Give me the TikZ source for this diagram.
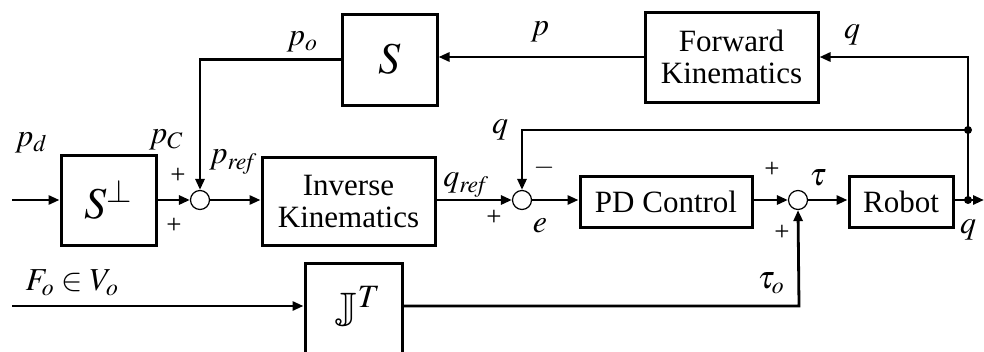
\documentclass[tikz,border=0pt]{standalone}
\usepackage{amssymb}
\usepackage{mathptmx}
\usepackage{fontspec}
\setmainfont{Liberation Serif}
\usetikzlibrary{arrows.meta}
\begin{document}
\begin{tikzpicture}[x=1pt,y=-1pt,
  blk/.style={draw,line width=3pt,minimum width=#1,inner sep=0pt,align=center,font=\fontsize{31}{32}\selectfont},
  sumj/.style={draw,circle,line width=1.2pt,minimum size=19pt,inner sep=0pt,fill=white},
  sig/.style={line width=2.8pt,-{Triangle[length=11pt,width=9pt]}},
  ln/.style={line width=2.8pt},
  lab/.style={font=\fontsize{32}{34}\selectfont,inner sep=0pt},
  sgn/.style={font=\fontsize{27}{28}\selectfont,inner sep=0pt},
  dotj/.style={circle,fill,minimum size=8pt,inner sep=0pt}]
\useasboundingbox (0,0) rectangle (984,351);
% blocks
\node[blk=95pt,minimum height=90pt] (sp) at (108.5,200) {\fontsize{44}{44}\selectfont$S^{\perp}$};
\node[sumj] (s1) at (200,200) {};
\node[blk=173pt,minimum height=88pt] (ik) at (348.5,201) {Inverse\\Kinematics};
\node[sumj] (s2) at (522,200) {};
\node[blk=172pt,minimum height=51pt] (pd) at (666,201.5) {PD Control};
\node[sumj] (s3) at (798,200) {};
\node[blk=104pt,minimum height=51pt] (rb) at (901,201.5) {Robot};
\node[blk=173pt,minimum height=90pt] (fk) at (731.5,57) {Forward\\Kinematics};
\node[blk=95pt,minimum height=91pt] (s) at (389.5,59.5) {\fontsize{44}{44}\selectfont$S$};
\node[blk=97pt,minimum height=92pt] (jt) at (353.5,309) {};
\node[inner sep=0pt,font=\fontsize{44}{44}\selectfont] (jtl) at (358,309) {$\mathbb{J}^{T}$};
% coordinates
\coordinate (in1) at (12,200);
\coordinate (in2) at (12,306);
\coordinate (out) at (984,200);
\node[dotj] (d1) at (968,200) {};
\node[dotj] (d2) at (968,130) {};
\coordinate (c1) at (968,57);
\coordinate (c2) at (200,59.5);
\coordinate (c3) at (522,130);
\coordinate (c4) at (799,306);
% connectors
\draw[sig] (in1) -- (sp.west);
\draw[sig] (in2) -- (jt.west |- in2);
\draw[sig] (sp.east) -- (s1.west);
\draw[sig] (s1.east) -- (ik.west |- s1);
\draw[sig] (ik.east |- s2) -- (s2.west);
\draw[sig] (s2.east) -- (pd.west |- s2);
\draw[sig] (pd.east |- s3) -- (s3.west);
\draw[sig] (s3.east) -- (rb.west |- s3);
\draw[sig] (rb.east |- d1) -- (out);
\draw[ln] (d1.center) -- (d2.center);
\draw[sig] (d2.center) -- (c1) -- (fk.east |- c1);
\draw[sig] (fk.west |- c1) -- (s.east |- c1);
\draw[sig] (s.west) -- (c2) -- (s1.north);
\draw[sig] (d2.center) -- (c3) -- (s2.north);
\draw[sig] (jt.east |- c4) -- (c4) -- (s3.south);
% labels
\node[lab] (lpd) at (31,143) {$p_d$};
\node[lab] (lpc) at (166,140) {$p_C$};
\node[sgn] (pl1) at (178,176) {+};
\node[sgn] (pl2) at (174,226) {+};
\node[lab] (lpref) at (233,162) {$p_{\mathit{ref}}$};
\node[lab] (lqref) at (466,185) {$q_{\mathit{ref}}$};
\node[lab] (lq1) at (500,130) {$q$};
\node[sgn] (mi1) at (544,168) {$-$};
\node[sgn] (pl3) at (494,218) {+};
\node[lab] (le) at (540,226) {$e$};
\node[sgn] (pl4) at (772,170) {+};
\node[lab] (ltau) at (818,178) {$\tau$};
\node[sgn] (pl5) at (782,233) {+};
\node[lab] (lq2) at (968,230) {$q$};
\node[lab] (lq3) at (852,35) {$q$};
\node[lab] (lp) at (540,32) {$p$};
\node[lab] (lpo) at (302,42) {$p_o$};
\node[lab] (lfo) at (72,283) {$F_o\in V_o$};
\node[lab] (ltauo) at (771,283) {$\tau_o$};
\end{tikzpicture}
\end{document}
